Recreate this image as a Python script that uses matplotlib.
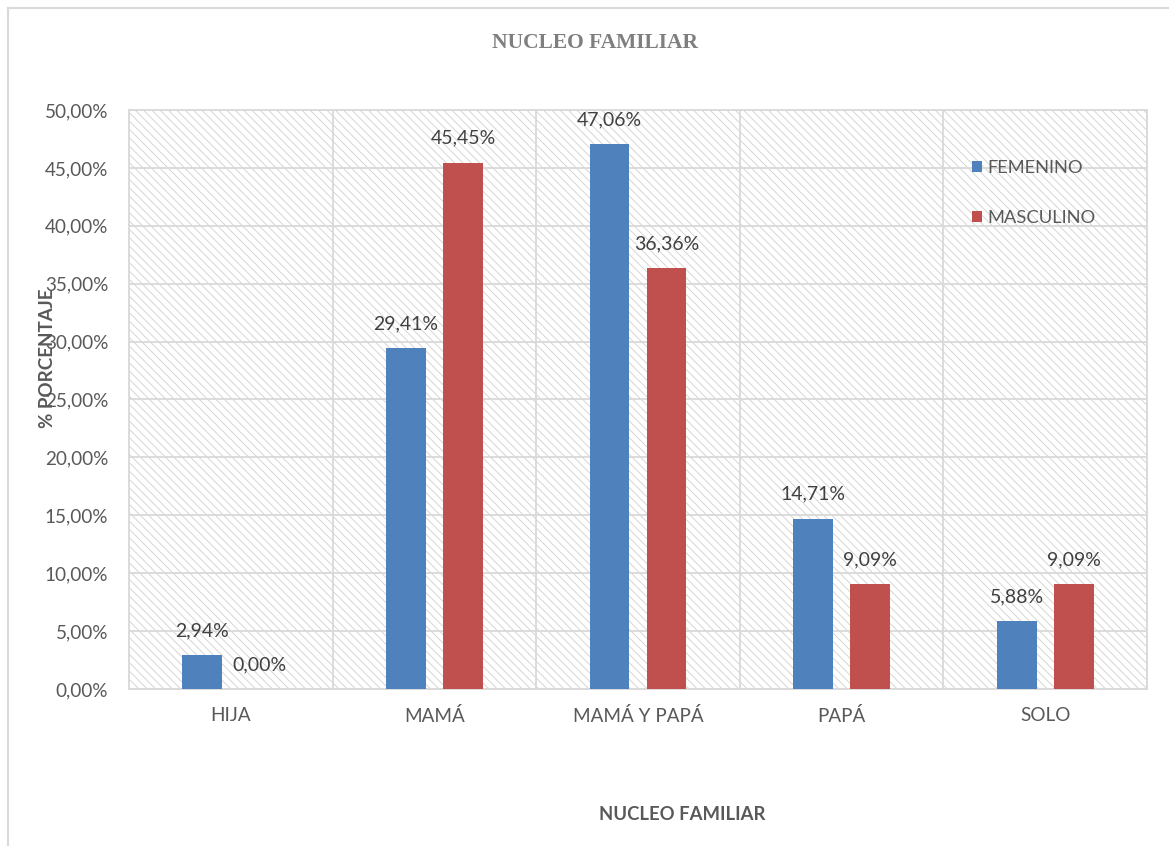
import matplotlib.pyplot as plt
from matplotlib.patches import Rectangle
from matplotlib.lines import Line2D
import numpy as np

# data (percent)
categories = ['HIJA', 'MAMÁ', 'MAMÁ Y PAPÁ', 'PAPÁ', 'SOLO']
femenino = [2.94, 29.41, 47.06, 14.71, 5.88]
masculino = [0.00, 45.45, 36.36, 9.09, 9.09]
series_names = ['FEMENINO', 'MASCULINO']
y_ticks = [0, 5, 10, 15, 20, 25, 30, 35, 40, 45, 50]

blue = '#4F81BD'
red = '#C0504D'
text_gray = '#595959'
grid_gray = '#d9d9d9'

plt.rcParams['font.family'] = ['Lato', 'DejaVu Sans']
plt.rcParams['hatch.linewidth'] = 0.6
plt.rcParams['hatch.color'] = '#cfcfcf'

fig = plt.figure(figsize=(11.69, 8.46), dpi=100)
ax = fig.add_axes([0.1104, 0.1856, 0.8708, 0.6844])

# hatched background of the plot area
ax.add_patch(Rectangle((0, 0), 1, 1, transform=ax.transAxes, facecolor='white',
                       edgecolor='#cfcfcf', hatch='\\\\\\\\', linewidth=0, zorder=0))

x = np.arange(len(categories))
w = 0.196
off = 0.14
b1 = ax.bar(x - off, femenino, w, color=blue, label=series_names[0], zorder=3)
b2 = ax.bar(x + off, masculino, w, color=red, label=series_names[1], zorder=3)

# data labels
for bars, vals in ((b1, femenino), (b2, masculino)):
    for r, v in zip(bars, vals):
        ax.annotate(('%.2f%%' % v).replace('.', ','),
                    (r.get_x() + r.get_width() / 2, v),
                    xytext=(0, 17.5), textcoords='offset points',
                    ha='center', va='center', fontsize=14, color='#404040', zorder=4)

ax.set_xlim(-0.5, len(categories) - 0.5)
ax.set_ylim(0, 50)
ax.set_yticks(y_ticks)
ax.set_yticklabels([('%.2f%%' % t).replace('.', ',') for t in y_ticks])
ax.set_xticks(x)
ax.set_xticklabels(categories)

# grid: horizontal at ticks, vertical at category boundaries
for t in y_ticks:
    ax.axhline(t, color=grid_gray, lw=1.3, zorder=1)
for b in np.arange(-0.5, len(categories), 1.0):
    ax.axvline(b, color=grid_gray, lw=1.3, zorder=1)

for s in ax.spines.values():
    s.set_color(grid_gray)
    s.set_linewidth(1.3)
ax.tick_params(axis='both', length=0, labelsize=13.6, labelcolor=text_gray)
ax.tick_params(axis='y', pad=15)
ax.tick_params(axis='x', pad=13)

ax.set_ylabel('% PORCENTAJE', fontsize=13.5, fontweight='bold', color=text_gray)
ax.yaxis.set_label_coords(-0.0717, 0.572)
ax.set_xlabel('NUCLEO FAMILIAR', fontsize=13.3, fontweight='bold', color=text_gray)
ax.xaxis.set_label_coords(0.543, -0.202)

fig.text(0.509, 0.949, 'NUCLEO FAMILIAR', ha='center', va='center', fontsize=15.5,
         fontweight='bold', color='#7f7f7f', family='Liberation Serif')

ax.legend(loc='upper left', bbox_to_anchor=(0.828, 0.913), frameon=False,
          fontsize=13.2, labelcolor=text_gray, handlelength=0.55, handleheight=0.55,
          handletextpad=0.3, labelspacing=1.85, borderpad=0, borderaxespad=0)

# outer chart border (left and top)
fig.add_artist(Line2D([0.0068, 0.0068], [0, 0.9905], color=grid_gray, lw=1.5))
fig.add_artist(Line2D([0.0068, 1], [0.9905, 0.9905], color=grid_gray, lw=1.5))

fig.savefig('out.png', dpi=100)
